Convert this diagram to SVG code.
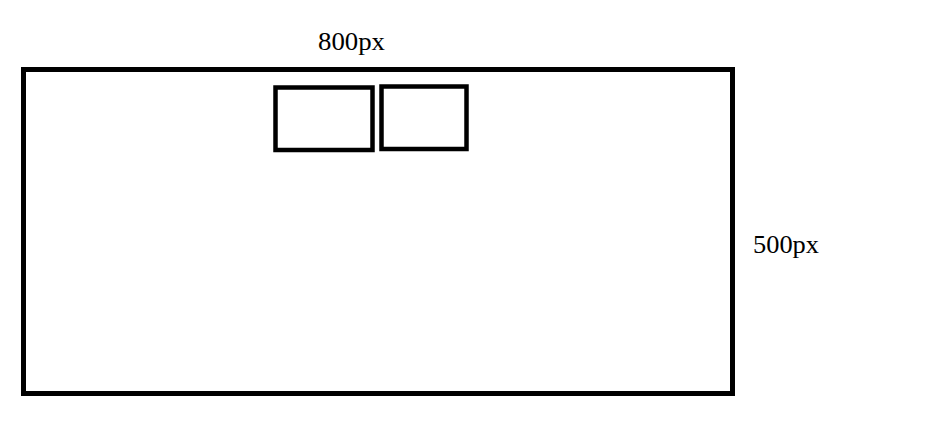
<svg xmlns="http://www.w3.org/2000/svg" width="925" height="447" viewBox="0 0 925 447">
<style>
.box{fill:none;stroke:#000;stroke-width:4.5}
.lbl{font-family:"Liberation Serif","Times New Roman",serif;font-size:25px;fill:#000}
</style>
<rect width="925" height="447" fill="#fff"/>
<g id="outer"><rect class="box" x="23.5" y="69.5" width="709" height="324" style="stroke-width:5"/></g>
<g id="box1"><rect class="box" x="275.5" y="87.5" width="97" height="62.5"/></g>
<g id="box2"><rect class="box" x="381.5" y="86.5" width="85" height="62.5"/></g>
<g id="connectors"></g>
<g id="labels">
<text class="lbl" x="318" y="50" textLength="67" lengthAdjust="spacingAndGlyphs">800px</text>
<text class="lbl" x="753" y="253" textLength="66" lengthAdjust="spacingAndGlyphs">500px</text>
</g>
</svg>
